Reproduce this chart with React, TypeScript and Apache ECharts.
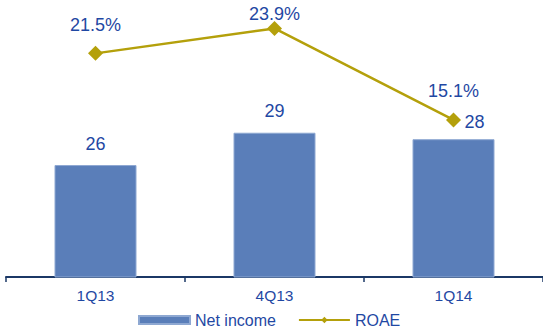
import React, { useEffect, useRef } from "react";
import * as echarts from "echarts";

const categories = ["1Q13", "4Q13", "1Q14"];
const netIncome = [26, 29, 28.4];
const roae = [21.5, 23.9, 15.1];
const netIncomeLabelDistances = [12, 13, 8];
const netIncomeLabelOffsets = [[0, 0], [0, 0], [21, 0]];
const roaeLabelDistances = [12, -2, 12.5];

const FONT = "'Liberation Sans', Arial, sans-serif";
const TEXT = "#1F48A3";
const BAR = "#5A7EB9";
const LINE = "#B4A00B";
const AXIS = "#1B3866";

export default function App() {
  const ref = useRef<HTMLDivElement>(null);
  useEffect(() => {
    if (!ref.current) return;
    const chart = echarts.init(ref.current, undefined, { renderer: "svg" });
    chart.setOption({
      animation: false,
      backgroundColor: "#ffffff",
      textStyle: { fontFamily: FONT },
      grid: { left: 6, top: 10, width: 540, height: 267 },
      legend: {
        left: 133,
        top: 307,
        itemGap: 22,
        itemWidth: 51,
        itemHeight: 8,
        textStyle: { color: TEXT, fontSize: 16, fontFamily: FONT },
        data: [
          { name: "Net income", icon: "rect" },
          { name: "ROAE" },
        ],
      },
      xAxis: {
        type: "category",
        data: categories,
        axisLine: { show: true, lineStyle: { color: AXIS, width: 2 } },
        axisTick: { show: true, length: 5, lineStyle: { color: AXIS, width: 1.5 } },
        axisLabel: { color: TEXT, fontSize: 15.5, fontFamily: FONT, margin: 10 },
      },
      yAxis: [
        { type: "value", min: 15.6, max: 40.4, show: false, splitLine: { show: false } },
        { type: "value", min: 0, max: 25.67, show: false, splitLine: { show: false } },
      ],
      series: [
        {
          name: "Net income",
          type: "bar",
          barWidth: 82,
          yAxisIndex: 0,
          itemStyle: { color: BAR, borderColor: "#8EA8D2", borderWidth: 1 },
          data: netIncome.map((v, i) => ({
            value: v,
            label: { distance: netIncomeLabelDistances[i], offset: netIncomeLabelOffsets[i] },
          })),
          label: {
            show: true,
            position: "top",
            color: TEXT,
            fontSize: 18,
            fontFamily: FONT,
            formatter: (p: any) => String(Math.round(p.value)),
          },
        },
        {
          name: "ROAE",
          type: "line",
          yAxisIndex: 1,
          symbol: "diamond",
          symbolSize: 15,
          lineStyle: { color: LINE, width: 2.5 },
          itemStyle: { color: LINE },
          data: roae.map((v, i) => ({
            value: v,
            label: { distance: roaeLabelDistances[i] },
          })),
          label: {
            show: true,
            position: "top",
            color: TEXT,
            fontSize: 18,
            fontFamily: FONT,
            formatter: (p: any) => p.value.toFixed(1) + "%",
          },
          z: 5,
        },
      ],
    });
    return () => chart.dispose();
  }, []);
  return (
    <div
      ref={ref}
      style={{ position: "fixed", left: 0, top: 0, width: 543, height: 328, background: "#fff" }}
    />
  );
}
